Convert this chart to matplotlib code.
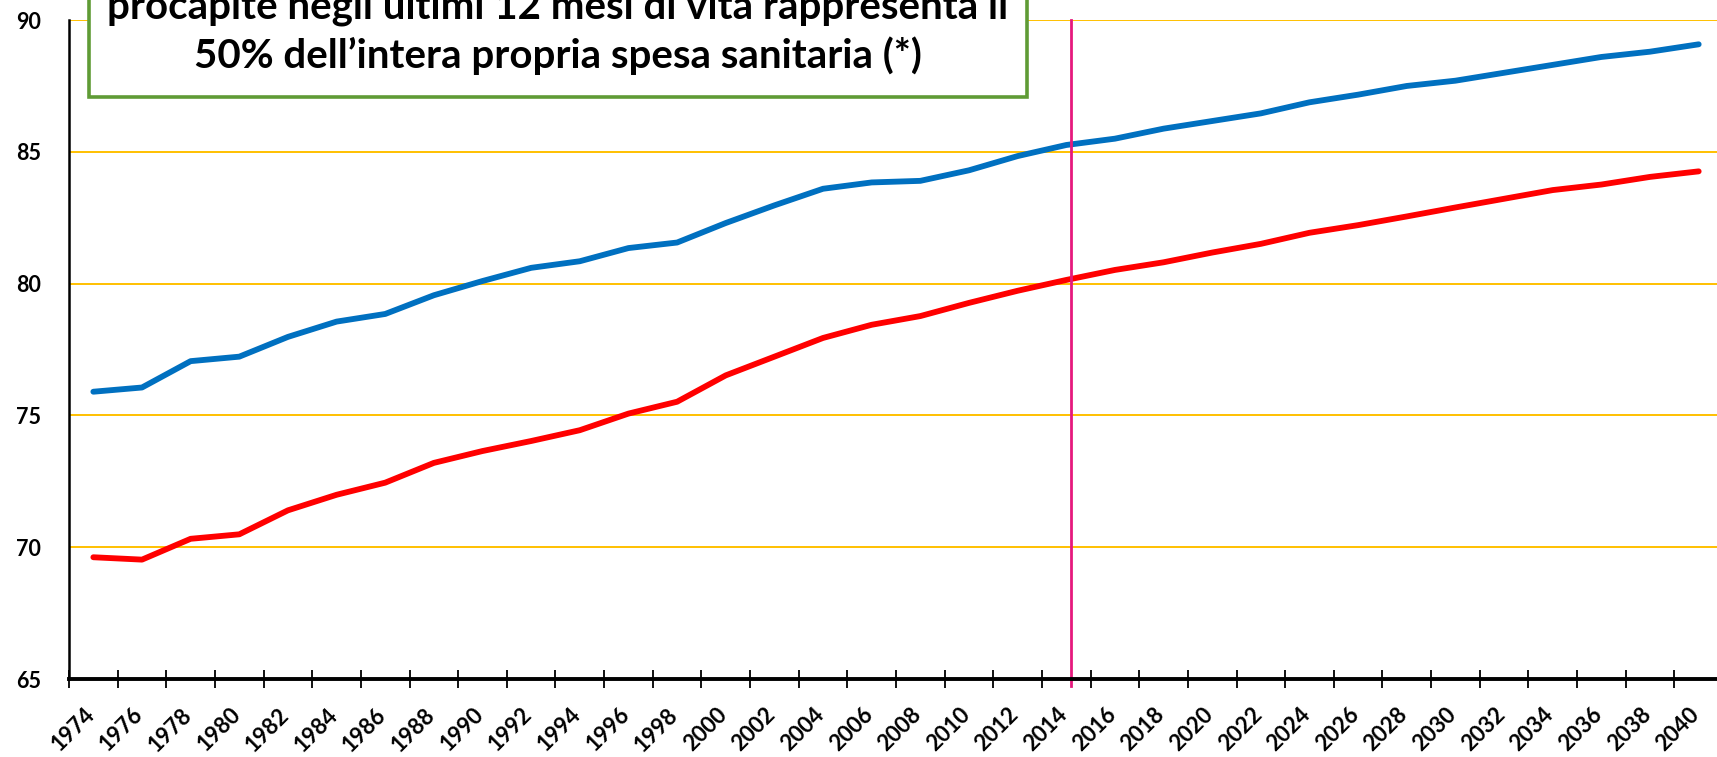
import matplotlib
matplotlib.use('Agg')
from matplotlib import pyplot as plt
from matplotlib.patches import Rectangle
import matplotlib.transforms as mtransforms

years = list(range(1974, 2041, 2))
blue_values = [75.9, 76.06, 77.06, 77.23, 77.98, 78.56, 78.85, 79.56, 80.1, 80.6,
               80.85, 81.35, 81.56, 82.3, 82.97, 83.6, 83.84, 83.9, 84.3, 84.84,
               85.26, 85.5, 85.88, 86.17, 86.46, 86.88, 87.17, 87.5, 87.7, 88.0,
               88.3, 88.6, 88.8, 89.08]
red_values = [69.62, 69.53, 70.32, 70.49, 71.4, 71.99, 72.45, 73.2, 73.65, 74.03,
              74.44, 75.07, 75.52, 76.52, 77.23, 77.94, 78.44, 78.77, 79.27, 79.73,
              80.14, 80.52, 80.81, 81.18, 81.51, 81.93, 82.22, 82.55, 82.89, 83.22,
              83.55, 83.76, 84.05, 84.26]
y_ticks = [65, 70, 75, 80, 85, 90]
cutoff_year = 2014
note_lines = ['procapite negli ultimi 12 mesi di vita rappresenta il',
              '50% dell\u2019intera propria spesa sanitaria (*)']

plt.rcParams['font.family'] = ['Lato', 'DejaVu Sans']
plt.rcParams['font.weight'] = 'bold'

fig = plt.figure(figsize=(17.17, 7.57), dpi=100)
ax = fig.add_axes([0.0402, 0.103, 0.9633, 0.8705])

x = list(range(len(years)))
ax.plot(x, blue_values, color='#0070C0', lw=4.2, solid_capstyle='round', zorder=3)
ax.plot(x, red_values, color='#FF0000', lw=4.2, solid_capstyle='round', zorder=3)

# vertical marker at the last observed year
ax.axvline(years.index(cutoff_year) + 0.1, ymin=-0.01, ymax=1, color='#E6197D',
           lw=2.0, clip_on=False, zorder=4)

ax.set_xlim(-0.5, len(years) - 0.5)
ax.set_ylim(65, 90)
ax.set_yticks(y_ticks)
ax.set_yticklabels([str(v) for v in y_ticks], fontsize=15.5, fontweight='bold')
ax.tick_params(axis='y', length=0, pad=20)
for v in y_ticks[1:]:
    ax.axhline(v, color='#FFC000', lw=1.4, zorder=1)

ax.set_xticks(x)
ax.set_xticklabels([str(y) for y in years], rotation=45, ha='right', va='top',
                   fontsize=16, fontweight='bold')
ax.tick_params(axis='x', which='major', length=0, pad=18)
shift = mtransforms.ScaledTranslation(0.05, 0, fig.dpi_scale_trans)
for lbl in ax.get_xticklabels():
    lbl.set_transform(lbl.get_transform() + shift)
ax.set_xticks([i - 0.5 for i in range(len(years) + 1)], minor=True)
ax.tick_params(axis='x', which='minor', direction='inout', length=13, width=1.3, color='black')

for s in ['top', 'right']:
    ax.spines[s].set_visible(False)
ax.spines['left'].set_linewidth(1.8)
ax.spines['bottom'].set_linewidth(2.8)
ax.spines['bottom'].set_zorder(5)

# note box, cut by the top edge
fig.add_artist(Rectangle((89 / 1717, 660 / 757), 938 / 1717, 0.3,
                         transform=fig.transFigure, facecolor='white',
                         edgecolor='#5F9B35', lw=2.6, zorder=10))
fig.text(558 / 1717, 739 / 757, note_lines[0], ha='center', va='baseline',
         fontsize=29, fontweight='bold', zorder=11)
fig.text(558 / 1717, 689 / 757, note_lines[1], ha='center', va='baseline',
         fontsize=29, fontweight='bold', zorder=11)

fig.savefig('out.png', dpi=100)
